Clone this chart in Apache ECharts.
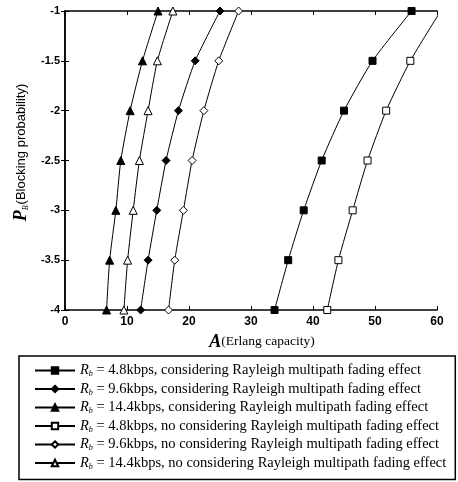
<!DOCTYPE html>
<html>
<head>
<meta charset="utf-8">
<script src="https://cdn.jsdelivr.net/npm/echarts@6/dist/echarts.min.js"></script>
<style>
  html, body { margin: 0; padding: 0; background: #fff; }
  #main { width: 458px; height: 482px; }
</style>
</head>
<body>
<div id="main"></div>
<script>
// blocking probability levels (log10)
var pbLevels = [-4, -3.5, -3, -2.5, -2, -1.5, -1];

// Erlang capacity for each level
var a48Fading = [33.8, 36.0, 38.5, 41.4, 45.0, 49.6, 55.9];
var a96Fading = [12.2, 13.4, 14.8, 16.3, 18.3, 21.0, 25.0];
var a144Fading = [6.7, 7.2, 8.2, 9.0, 10.5, 12.5, 15.0];
var a48NoFading = [42.3, 44.1, 46.4, 48.8, 51.8, 55.7, 60.6];
var a96NoFading = [16.7, 17.7, 19.1, 20.5, 22.4, 24.8, 28.0];
var a144NoFading = [9.5, 10.1, 11.0, 12.0, 13.4, 14.9, 17.4];

var xTicks = [0, 10, 20, 30, 40, 50, 60];
var yTicks = [-4, -3.5, -3, -2.5, -2, -1.5, -1];

var rates = ['4.8', '9.6', '14.4', '4.8', '9.6', '14.4'];
var tails = [
    'kbps, considering Rayleigh multipath fading effect',
    'kbps, considering Rayleigh multipath fading effect',
    'kbps, considering Rayleigh multipath fading effect',
    'kbps, no considering Rayleigh multipath fading effect',
    'kbps, no considering Rayleigh multipath fading effect',
    'kbps, no considering Rayleigh multipath fading effect'
];
var symbols = ['rect', 'diamond', 'triangle', 'rect', 'diamond', 'triangle'];
var filled = [true, true, true, false, false, false];
var values = [a48Fading, a96Fading, a144Fading, a48NoFading, a96NoFading, a144NoFading];

var serif = 'Liberation Serif';
var sans = 'Liberation Sans';

var myChart = echarts.init(document.getElementById('main'));

var series = values.map(function (vals, k) {
    return {
        name: 'Rb = ' + rates[k] + tails[k],
        type: 'line',
        data: vals.map(function (v, i) { return [v, pbLevels[i]]; }),
        symbol: symbols[k],
        symbolSize: symbols[k] === 'rect' ? 7 : 8,
        smooth: 0.2,
        clip: true,
        lineStyle: { color: '#000', width: 1 },
        itemStyle: {
            color: filled[k] ? '#000' : '#fff',
            borderColor: '#000',
            borderWidth: 1
        },
        emphasis: { disabled: true }
    };
});

var option = {
    animation: false,
    backgroundColor: '#fff',
    grid: { left: 65, right: 21, top: 11, bottom: 172 },
    xAxis: [{
        type: 'value',
        min: 0, max: 60, interval: 10,
        name: '{a|A}{n|(Erlang capacity)}',
        nameLocation: 'middle',
        nameGap: 22,
        nameTextStyle: {
            rich: {
                a: { fontFamily: serif, fontStyle: 'italic', fontWeight: 'bold', fontSize: 18, color: '#000', padding: [0, 0, 0, 22] },
                n: { fontFamily: serif, fontSize: 13.5, color: '#000' }
            }
        },
        axisLine: { lineStyle: { color: '#000', width: 1.5 } },
        axisTick: { inside: true, length: 4, lineStyle: { color: '#000' } },
        axisLabel: { fontFamily: sans, fontSize: 12, fontWeight: 'bold', color: '#000', margin: 6 },
        splitLine: { show: false }
    }, {
        type: 'value', position: 'top',
        min: 0, max: 60, interval: 10,
        axisLine: { lineStyle: { color: '#000', width: 1.5 } },
        axisTick: { inside: true, length: 4, lineStyle: { color: '#000' } },
        axisLabel: { show: false },
        splitLine: { show: false }
    }],
    yAxis: [{
        type: 'value',
        min: -4, max: -1, interval: 0.5,
        name: '{p|P}{s|B}{n|(Blocking probability)}',
        nameLocation: 'middle',
        nameRotate: 90,
        nameGap: 32,
        nameTextStyle: {
            rich: {
                p: { fontFamily: serif, fontStyle: 'italic', fontWeight: 'bold', fontSize: 18, color: '#000', padding: [0, 0, 0, 16] },
                s: { fontFamily: serif, fontStyle: 'italic', fontSize: 8, color: '#000', verticalAlign: 'bottom', padding: [6, 1, 0, 0] },
                n: { fontFamily: sans, fontSize: 13, color: '#000' }
            }
        },
        axisLine: { lineStyle: { color: '#000', width: 1.5 } },
        axisTick: { inside: true, length: 4, lineStyle: { color: '#000' } },
        axisLabel: { fontFamily: sans, fontSize: 11, fontWeight: 'bold', color: '#000', margin: 5 },
        splitLine: { show: false }
    }, {
        type: 'value', position: 'right',
        min: -4, max: -1, interval: 0.5,
        axisLine: { show: true, lineStyle: { color: '#000', width: 1.5 } },
        axisTick: { inside: true, length: 4, lineStyle: { color: '#000' } },
        axisLabel: { show: false },
        splitLine: { show: false }
    }],
    legend: {
        orient: 'vertical',
        left: 19,
        top: 356,
        padding: [7, 9, 9, 15],
        borderColor: '#000',
        borderWidth: 1.5,
        itemGap: 3.5,
        itemWidth: 40,
        itemHeight: 8,
        selectedMode: false,
        formatter: function (name) {
            var k = series.findIndex(function (s) { return s.name === name; });
            return '{r|R}{s|b}{t| = ' + rates[k] + tails[k] + '}';
        },
        textStyle: {
            color: '#000',
            rich: {
                r: { fontFamily: serif, fontStyle: 'italic', fontSize: 14.5, lineHeight: 15, color: '#000' },
                s: { fontFamily: serif, fontStyle: 'italic', fontSize: 8, lineHeight: 15, color: '#000', verticalAlign: 'bottom', padding: [5, 0, 0, 0] },
                t: { fontFamily: serif, fontSize: 14.5, lineHeight: 15, color: '#000' }
            }
        },
        data: series.map(function (s) { return s.name; })
    },
    series: series
};

myChart.setOption(option);
</script>
</body>
</html>
